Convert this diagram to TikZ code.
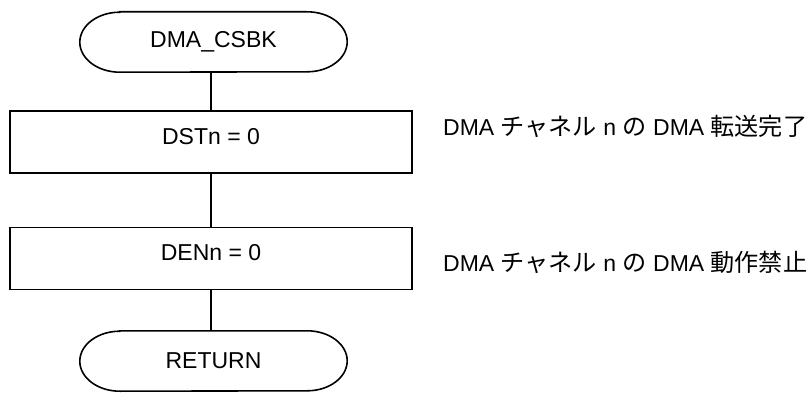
\documentclass[tikz,border=0pt]{standalone}
\usepackage{fontspec}
\setmainfont{Liberation Sans}
\newfontfamily\cjk[Scale=1.05]{Noto Sans CJK JP}
\begin{document}
\begin{tikzpicture}[x=1pt,y=1pt,
  every node/.style={font=\fontsize{23}{28}\selectfont},
  line/.style={line width=1.6pt},
  termbox/.style={minimum width=267pt, minimum height=60pt, inner sep=0pt},
  procbox/.style={draw, line width=1.6pt, minimum width=402pt, minimum height=62pt, inner sep=0pt, text height=17pt, text depth=13pt},
  note/.style={anchor=base west, inner sep=0pt}]
\useasboundingbox (0,0) rectangle (812,392);
% terminals
\node[termbox] (start) at (213.5,350) {DMA\_CSBK};
\node[procbox] (b1) at (211,250) {DSTn = 0};
\node[procbox] (b2) at (211,133.5) {DENn = 0};
\node[termbox] (ret) at (213.5,31) {RETURN};
\foreach \t in {start,ret}{
  \draw[line] ([xshift=40pt]\t.north west) -- ([xshift=-40pt]\t.north east)
    arc[start angle=90,end angle=-90,x radius=40pt,y radius=30pt]
    -- ([xshift=40pt]\t.south west)
    arc[start angle=270,end angle=90,x radius=40pt,y radius=30pt] -- cycle;
}
\draw[line] (start.south -| b1.north) -- (b1.north);
\draw[line] (b1) -- (b2);
\draw[line] (b2.south) -- (b2.south |- ret.north);
\node[note] (n1) at (443,257) {DMA {\cjk チャネル} n {\cjk の} DMA {\cjk 転送完了}};
\node[note] (n2) at (443,121) {DMA {\cjk チャネル} n {\cjk の} DMA {\cjk 動作禁止}};
\end{tikzpicture}
\end{document}
